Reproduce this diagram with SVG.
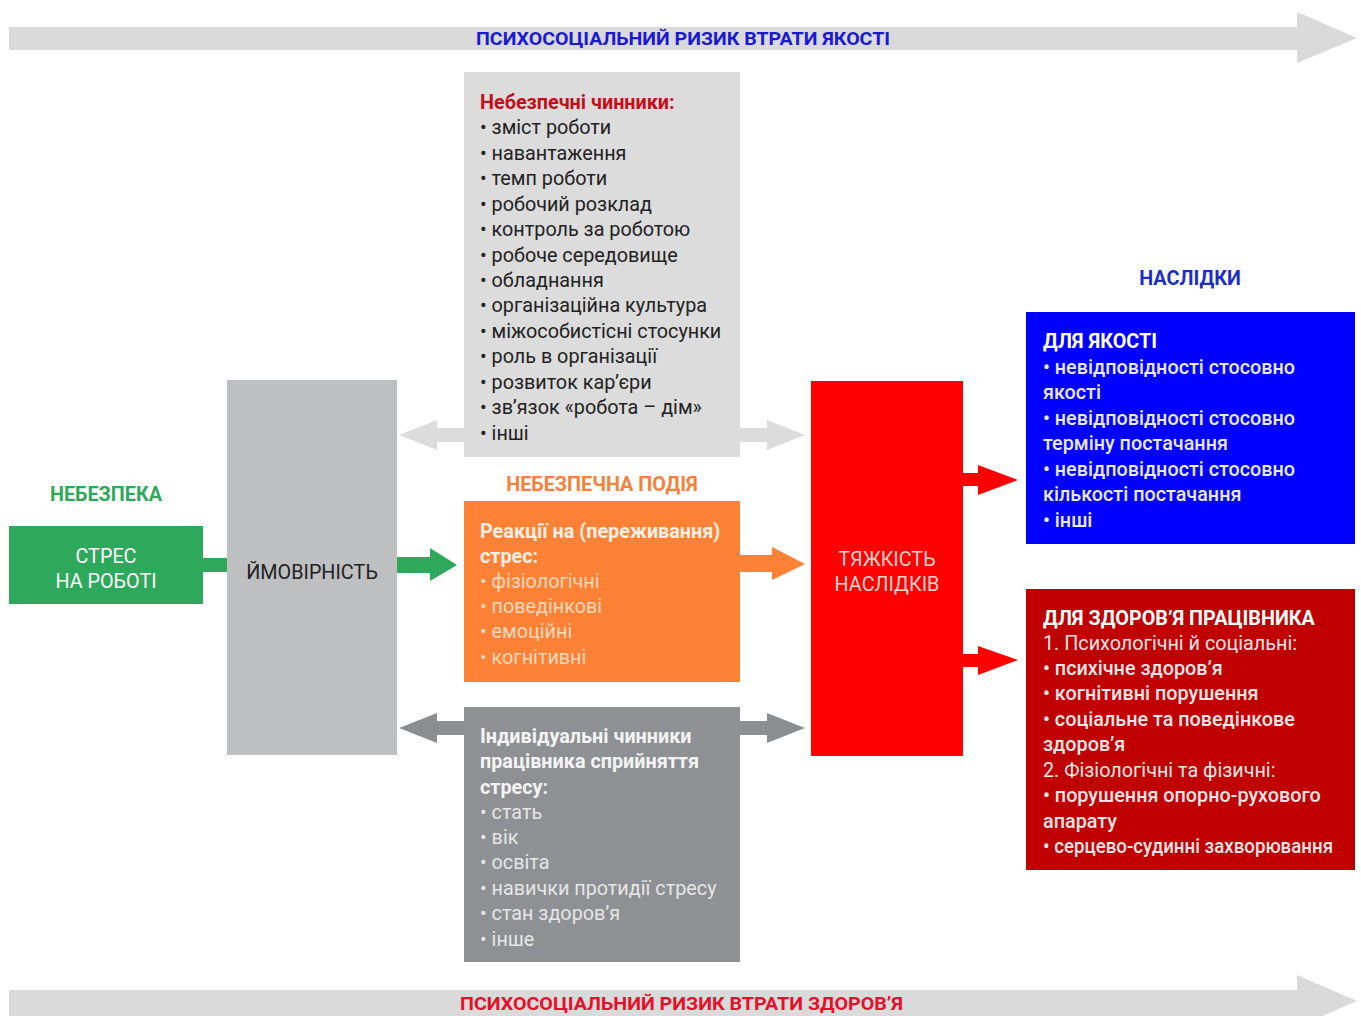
<svg xmlns="http://www.w3.org/2000/svg" width="1361" height="1016" viewBox="0 0 1361 1016">
  <style>
    text { font-family: Roboto, "Open Sans", "Liberation Sans", sans-serif; }
    .band { font-size: 18px; font-weight: 700; }
    .head { font-size: 19.8px; font-weight: 700; }
    .item { font-size: 19.8px; }
    .med { font-weight: 500; }
    .bold { font-weight: 700; }
    .cap { font-size: 19.8px; text-anchor: middle; }
  </style>

  <!-- risk bands -->
  <g id="band-quality">
    <path d="M9,27 H1297 V12 L1357,38 L1297,63 V50 H9 Z" fill="#dadada"/>
    <text class="band" x="476" y="45" fill="#1a1ad6" textLength="414" lengthAdjust="spacingAndGlyphs">ПСИХОСОЦІАЛЬНИЙ РИЗИК ВТРАТИ ЯКОСТІ</text>
  </g>
  <g id="band-health">
    <path d="M9,990 H1297 V975 L1357,1001 L1297,1027 V1016 H9 Z" fill="#dadada"/>
    <text class="band" x="460" y="1010" fill="#e5102a" textLength="443" lengthAdjust="spacingAndGlyphs">ПСИХОСОЦІАЛЬНИЙ РИЗИК ВТРАТИ ЗДОРОВ’Я</text>
  </g>

  <!-- connectors -->
  <g id="connectors">
    <!-- stress to probability -->
    <rect x="203" y="558" width="24" height="14" fill="#2ea85a"/>
    <!-- probability to event -->
    <path d="M397,557 H430 V548 L457,565 L430,581 V573 H397 Z" fill="#2ea85a"/>
    <!-- event to severity -->
    <path d="M740,555 H772 V547 L805,564 L772,580 V572 H740 Z" fill="#fd8235"/>
    <!-- hazard factors, both ways -->
    <path d="M464,428 H437 V420 L399,435 L437,450 V442 H464 Z" fill="#dcdcdc"/>
    <path d="M740,428 H767 V420 L805,435 L767,450 V442 H740 Z" fill="#dcdcdc"/>
    <!-- individual factors, both ways -->
    <path d="M464,721 H437 V713 L399,728 L437,743 V735 H464 Z" fill="#8c8e90"/>
    <path d="M740,721 H767 V713 L805,728 L767,743 V735 H740 Z" fill="#8c8e90"/>
    <!-- severity to consequences -->
    <path d="M963,473 H978 V465 L1018,480 L978,495 V486 H963 Z" fill="#fe0000"/>
    <path d="M963,654 H978 V646 L1018,660 L978,675 V667 H963 Z" fill="#fe0000"/>
  </g>

  <!-- hazard -->
  <g id="node-stress">
    <text class="head" x="106" y="501" text-anchor="middle" fill="#2ea85a">НЕБЕЗПЕКА</text>
    <rect x="9" y="526" width="194" height="78" fill="#2ea85a"/>
    <text class="cap" x="106" y="563" fill="#ffffff">СТРЕС</text>
    <text class="cap" x="106" y="588" fill="#ffffff">НА РОБОТІ</text>
  </g>

  <!-- probability -->
  <g id="node-probability">
    <rect x="227" y="380" width="170" height="375" fill="#bdbfc1"/>
    <text class="cap" x="312" y="579" fill="#222222">ЙМОВІРНІСТЬ</text>
  </g>

  <!-- hazardous factors -->
  <g id="node-factors">
    <rect x="464" y="72" width="276" height="385" fill="#dcdcdc"/>
    <text class="item bold" x="480" y="109" fill="#c0101a">Небезпечні чинники:</text>
    <g class="item" fill="#222222">
      <text x="480" y="134">• зміст роботи</text>
      <text x="480" y="160">• навантаження</text>
      <text x="480" y="185">• темп роботи</text>
      <text x="480" y="211">• робочий розклад</text>
      <text x="480" y="236">• контроль за роботою</text>
      <text x="480" y="262">• робоче середовище</text>
      <text x="480" y="287">• обладнання</text>
      <text x="480" y="312">• організаційна культура</text>
      <text x="480" y="338">• міжособистісні стосунки</text>
      <text x="480" y="363">• роль в організації</text>
      <text x="480" y="389">• розвиток кар’єри</text>
      <text x="480" y="414">• зв’язок «робота – дім»</text>
      <text x="480" y="440">• інші</text>
    </g>
  </g>

  <!-- hazardous event -->
  <g id="node-event">
    <text class="head" x="602" y="491" text-anchor="middle" fill="#f4823a">НЕБЕЗПЕЧНА ПОДІЯ</text>
    <rect x="464" y="501" width="276" height="181" fill="#fd8235"/>
    <text class="item bold" x="480" y="538" fill="#fff0e6">Реакції на (переживання)</text>
    <text class="item bold" x="480" y="563" fill="#fff0e6">стрес:</text>
    <g class="item" fill="#fed8bd">
      <text x="480" y="588">• фізіологічні</text>
      <text x="480" y="613">• поведінкові</text>
      <text x="480" y="638">• емоційні</text>
      <text x="480" y="664">• когнітивні</text>
    </g>
  </g>

  <!-- individual factors -->
  <g id="node-individual">
    <rect x="464" y="707" width="276" height="255" fill="#8e9093"/>
    <g class="item bold" fill="#f4f4f4">
      <text x="480" y="743">Індивідуальні чинники</text>
      <text x="480" y="768">працівника сприйняття</text>
      <text x="480" y="794">стресу:</text>
    </g>
    <g class="item" fill="#e6e6e6">
      <text x="480" y="819">• стать</text>
      <text x="480" y="844">• вік</text>
      <text x="480" y="869">• освіта</text>
      <text x="480" y="895">• навички протидії стресу</text>
      <text x="480" y="920">• стан здоров’я</text>
      <text x="480" y="946">• інше</text>
    </g>
  </g>

  <!-- severity -->
  <g id="node-severity">
    <rect x="811" y="381" width="152" height="375" fill="#fe0000"/>
    <text class="cap" x="887" y="566" fill="#ffd6d0">ТЯЖКІСТЬ</text>
    <text class="cap" x="887" y="591" fill="#ffd6d0">НАСЛІДКІВ</text>
  </g>

  <!-- consequences for quality -->
  <g id="node-quality">
    <text class="head" x="1190" y="285" text-anchor="middle" fill="#1c2ec4">НАСЛІДКИ</text>
    <rect x="1026" y="312" width="329" height="232" fill="#0000fe"/>
    <text class="item bold" x="1043" y="348" fill="#ffffff">ДЛЯ ЯКОСТІ</text>
    <g class="item med" fill="#e8e8ff">
      <text x="1043" y="374">• невідповідності стосовно</text>
      <text x="1043" y="399">якості</text>
      <text x="1043" y="425">• невідповідності стосовно</text>
      <text x="1043" y="450">терміну постачання</text>
      <text x="1043" y="476">• невідповідності стосовно</text>
      <text x="1043" y="501">кількості постачання</text>
      <text x="1043" y="527">• інші</text>
    </g>
  </g>

  <!-- consequences for health -->
  <g id="node-health">
    <rect x="1026" y="589" width="329" height="281" fill="#c00000"/>
    <text class="item bold" x="1043" y="625" fill="#ffffff">ДЛЯ ЗДОРОВ’Я ПРАЦІВНИКА</text>
    <g class="item" fill="#f6e6e6">
      <text x="1043" y="650">1. Психологічні й соціальні:</text>
      <text class="med" x="1043" y="675">• психічне здоров’я</text>
      <text class="med" x="1043" y="700">• когнітивні порушення</text>
      <text class="med" x="1043" y="726">• соціальне та поведінкове</text>
      <text class="med" x="1043" y="751">здоров’я</text>
      <text x="1043" y="777">2. Фізіологічні та фізичні:</text>
      <text class="med" x="1043" y="802">• порушення опорно-рухового</text>
      <text class="med" x="1043" y="828">апарату</text>
      <text class="med" x="1043" y="853" textLength="290" lengthAdjust="spacingAndGlyphs">• серцево-судинні захворювання</text>
    </g>
  </g>
</svg>
